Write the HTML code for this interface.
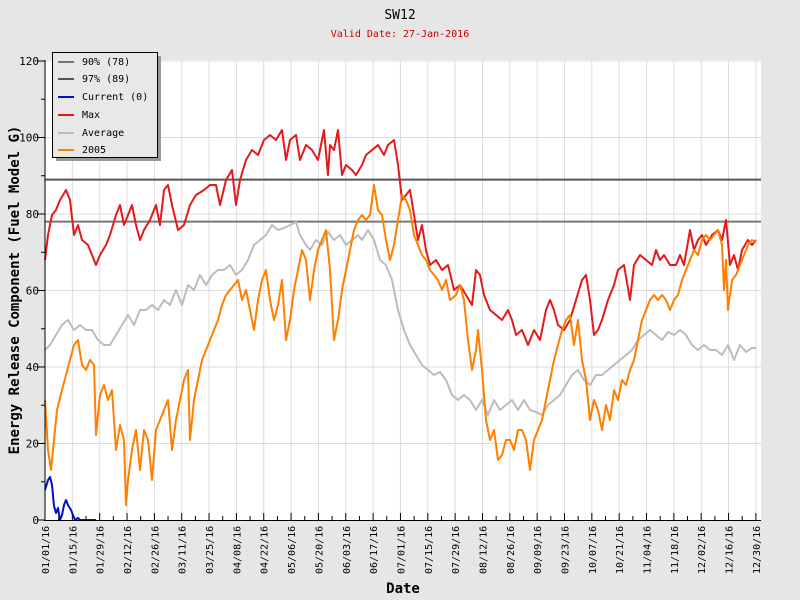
<!DOCTYPE html><html><head><style>body{margin:0;background:#e6e6e6}svg{display:block}</style></head><body>
<svg width="800" height="600" xmlns="http://www.w3.org/2000/svg" font-family="DejaVu Sans Mono, Liberation Mono, monospace">
<rect width="800" height="600" fill="#e6e6e6"/>
<rect x="45" y="60" width="716" height="460" fill="#fff"/>
<g id="grid" stroke="#dcdcdc" stroke-width="1"></g>
<g id="ticks" stroke="#000" stroke-width="1"></g>
<line x1="45" y1="179.6" x2="761" y2="179.6" stroke="#555" stroke-width="2"/>
<line x1="45" y1="221.6" x2="761" y2="221.6" stroke="#777" stroke-width="2"/>
<g fill="none" stroke-width="2" stroke-linejoin="round">
<polyline id="avg" stroke="#bcbcbc"/>
<polyline id="mx" stroke="#e31a1c"/>
<polyline id="o5" stroke="#ff8000"/>
<polyline id="cur" stroke="#0010cc"/>
</g>
<line x1="45" y1="60" x2="45" y2="521" stroke="#000"/>
<line x1="44" y1="520.5" x2="761" y2="520.5" stroke="#000"/>
<g id="ylab" font-size="11" text-anchor="end"></g>
<g id="xlab" font-size="10"></g>
<text x="400" y="19" font-size="13" text-anchor="middle">SW12</text>
<text x="400" y="37" font-size="10" fill="#cc0000" text-anchor="middle">Valid Date: 27-Jan-2016</text>
<text x="403" y="593" font-size="14" font-weight="bold" text-anchor="middle">Date</text>
<text transform="translate(19,290) rotate(-90)" font-size="14" font-weight="bold" text-anchor="middle">Energy Release Component (Fuel Model G)</text>
<rect x="56" y="56" width="105" height="105" fill="#999"/>
<rect x="52.5" y="52.5" width="105" height="105" fill="#e8e8e8" stroke="#000"/>
<g font-size="10" stroke-width="2">
<line x1="58" y1="62" x2="74" y2="62" stroke="#777"/><text x="82" y="65" stroke="none">90% (78)</text>
<line x1="58" y1="79" x2="74" y2="79" stroke="#555"/><text x="82" y="82" stroke="none">97% (89)</text>
<line x1="58" y1="97" x2="74" y2="97" stroke="#0010cc"/><text x="82" y="100" stroke="none">Current (0)</text>
<line x1="58" y1="115" x2="74" y2="115" stroke="#e31a1c"/><text x="82" y="118" stroke="none">Max</text>
<line x1="58" y1="133" x2="74" y2="133" stroke="#bcbcbc"/><text x="82" y="136" stroke="none">Average</text>
<line x1="58" y1="150" x2="74" y2="150" stroke="#ff8000"/><text x="82" y="153" stroke="none">2005</text>
</g>
</svg>
<script>
const NS="http://www.w3.org/2000/svg";
function el(p,t,a,txt){const e=document.createElementNS(NS,t);for(const k in a)e.setAttribute(k,a[k]);if(txt)e.textContent=txt;document.getElementById(p).appendChild(e);}
const X=d=>45+1.953*d, Y=v=>520-3.825*v;
for(let v=0;v<=120;v+=10){const y=Y(v);if(v%20==0){if(v>0)el('grid','line',{x1:45,x2:761,y1:y,y2:y});el('ylab','text',{x:39,y:y+4},String(v));el('ticks','line',{x1:37,x2:45,y1:y,y2:y});}else el('ticks','line',{x1:41,x2:45,y1:y,y2:y});}
const ms=[31,29,31,30,31,30,31,31,30,31,30,31];
function lbl(d){let m=0;while(d>=ms[m]){d-=ms[m];m++;}return String(m+1).padStart(2,'0')+'/'+String(d+1).padStart(2,'0')+'/16';}
for(let d=0;d<=364;d+=7){const x=X(d);if(d%14==0){if(d>0)el('grid','line',{x1:x,x2:x,y1:60,y2:520});el('ticks','line',{x1:x,x2:x,y1:513,y2:520});el('xlab','text',{transform:`translate(${x+4},574) rotate(-90)`},lbl(d));}else el('ticks','line',{x1:x,x2:x,y1:516,y2:520});}
const D={
mx:[45,260,48,235,52,215,56,210,60,200,66,190,70,200,74,235,78,225,82,240,88,245,92,255,96,265,100,255,106,245,110,235,116,215,120,205,124,225,128,215,132,205,136,225,140,240,144,230,150,220,156,205,160,225,164,190,168,185,172,205,178,230,184,225,190,205,196,195,204,190,210,185,216,185,220,205,226,180,232,170,236,205,240,180,246,160,252,150,258,155,264,140,270,135,276,140,282,130,286,160,290,140,296,135,300,160,306,145,312,150,318,160,324,130,328,175,330,145,334,150,338,130,342,175,346,165,352,170,356,175,362,165,366,155,372,150,378,145,384,155,388,145,394,140,398,165,402,200,406,195,410,190,414,215,418,240,422,225,426,250,430,265,436,260,442,270,448,265,454,290,460,285,466,295,472,305,476,270,480,275,484,295,490,310,496,315,502,320,508,310,512,320,516,335,522,330,528,345,534,330,540,340,546,310,550,300,554,310,558,325,564,330,570,320,576,300,582,280,586,275,590,300,594,335,598,330,602,320,608,300,614,285,618,270,624,265,630,300,634,265,640,255,646,260,652,265,656,250,660,260,664,255,670,265,676,265,680,255,684,265,690,230,694,250,698,240,702,235,706,245,712,235,718,230,722,240,726,220,730,265,734,255,738,270,742,250,748,240,752,245,756,240],
o5:[45,400,48,450,51,470,54,440,57,410,62,390,66,375,70,360,74,345,78,340,82,365,86,370,90,360,94,365,96,435,100,395,104,385,108,400,112,390,116,450,120,425,124,440,126,505,128,480,132,450,136,430,140,470,144,430,148,440,152,480,156,430,160,420,164,410,168,400,172,450,176,420,180,400,184,380,188,370,190,440,194,400,198,380,202,360,206,350,210,340,214,330,218,320,222,305,226,295,230,290,234,285,238,280,242,300,246,290,250,310,254,330,258,300,262,280,266,270,270,300,274,320,278,305,282,280,286,340,290,320,294,290,298,270,302,250,306,260,310,300,314,270,318,250,322,240,326,230,330,270,334,340,338,320,342,290,346,270,350,250,354,230,358,220,362,215,366,220,370,215,374,185,378,210,382,215,386,240,390,260,394,245,398,220,402,195,406,200,410,210,414,235,418,245,422,255,426,260,430,270,434,275,438,280,442,290,446,280,450,300,456,295,460,285,464,300,468,340,472,370,476,350,478,330,482,370,486,420,490,440,494,430,498,460,502,455,506,440,510,440,514,450,518,430,522,430,526,440,530,470,534,440,538,430,542,420,546,400,550,380,554,360,558,345,562,330,566,320,570,315,574,345,578,320,582,360,586,380,590,420,594,400,598,410,602,430,606,405,610,420,614,390,618,400,622,380,626,385,630,370,634,360,638,340,642,320,646,310,650,300,654,295,658,300,662,295,666,300,670,310,674,300,678,295,682,280,686,270,690,260,694,250,698,255,702,240,706,235,710,240,714,235,718,230,722,245,724,290,726,260,728,310,732,280,736,275,740,265,744,255,748,245,752,240,756,242],
avg:[45,350,50,345,56,335,62,325,68,320,74,330,80,325,86,330,92,330,98,340,104,345,110,345,116,335,122,325,128,315,134,325,140,310,146,310,152,305,158,310,164,300,170,305,176,290,182,305,188,285,194,290,200,275,206,285,212,275,218,270,224,270,230,265,236,275,242,270,248,260,254,245,260,240,266,235,272,225,278,230,284,228,290,225,296,222,300,235,306,245,310,250,316,240,322,245,328,232,334,240,340,235,346,245,352,240,358,235,362,240,368,230,374,240,380,260,386,265,392,280,398,310,404,330,410,345,416,355,422,365,428,370,434,375,440,372,446,380,452,395,458,400,464,395,470,400,476,410,482,400,488,415,494,400,500,410,506,405,512,400,518,410,524,400,530,410,536,412,542,415,548,405,554,400,560,395,566,385,572,375,578,370,584,380,590,385,596,375,602,375,608,370,614,365,620,360,626,355,632,350,638,340,644,335,650,330,656,335,662,340,668,332,674,335,680,330,686,335,692,345,698,350,704,345,710,350,716,350,722,355,728,345,734,360,740,345,746,352,752,348,756,348],
cur:[45,490,48,480,50,477,52,485,54,506,56,513,58,508,60,520,62,515,64,505,66,500,68,505,71,510,73,515,75,520,78,518,80,520,96,520]};
for(const k in D){const a=D[k];let s=[];for(let i=0;i<a.length;i+=2)s.push(a[i]+','+a[i+1]);document.getElementById(k).setAttribute('points',s.join(' '));}
</script>
</body></html>
